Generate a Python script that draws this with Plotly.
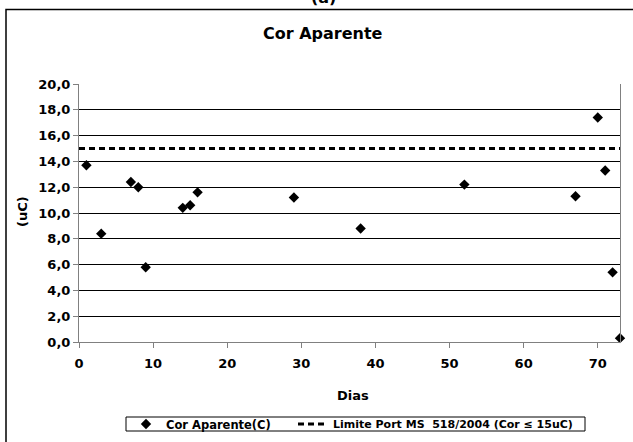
import plotly.graph_objects as go

dias = [1, 3, 7, 8, 9, 14, 15, 16, 29, 38, 52, 67, 70, 71, 72, 73]
cor = [13.7, 8.4, 12.4, 12.0, 5.8, 10.4, 10.6, 11.6, 11.2, 8.8, 12.2, 11.3, 17.4, 13.3, 5.4, 0.3]
limite_x = [0, 73]
limite_y = [15, 15]
y_ticks = [0, 2, 4, 6, 8, 10, 12, 14, 16, 18, 20]
y_tick_text = ["0,0", "2,0", "4,0", "6,0", "8,0", "10,0", "12,0", "14,0", "16,0", "18,0", "20,0"]
x_ticks = [0, 10, 20, 30, 40, 50, 60, 70]

FONT = "'DejaVu Sans', sans-serif"

fig = go.Figure()
fig.add_trace(go.Scatter(
    x=dias, y=cor, mode="markers", name="Cor Aparente(C)",
    marker=dict(symbol="diamond", size=8, color="black"),
    cliponaxis=False, legend="legend",
))
fig.add_trace(go.Scatter(
    x=limite_x, y=limite_y, mode="lines",
    name="Limite Port MS  518/2004 (Cor \u2264 15uC)",
    line=dict(color="black", width=3, dash="6px,4px"),
    legend="legend2",
))

W, H = 633, 442
L, R, T, B = 79, 13, 84, 100
pw, ph = W - L - R, H - T - B

def px(x):
    return (x - L) / pw

def py(y):
    return (H - B - y) / ph

leg_common = dict(
    orientation="h", yanchor="middle", y=py(424), xanchor="left",
    borderwidth=0, bgcolor="rgba(0,0,0,0)",
    itemwidth=30,
)

fig.update_layout(
    width=W, height=H,
    margin=dict(l=L, r=R, t=T, b=B, autoexpand=False),
    paper_bgcolor="white", plot_bgcolor="white",
    font=dict(family=FONT, size=13, color="black", weight="bold"),
    showlegend=True,
    legend=dict(x=px(126), font=dict(family=FONT, size=11.5, color="black", weight="bold"),
                **leg_common),
    legend2=dict(x=px(293), font=dict(family=FONT, size=11, color="black", weight="bold"),
                 **leg_common),
    xaxis=dict(
        range=[0, 73], tickvals=x_ticks, showgrid=False, zeroline=False,
        showline=True, linecolor="#808080", linewidth=1,
        ticks="outside", ticklen=5, tickcolor="#808080", ticklabelstandoff=4,
        tickfont=dict(family=FONT, size=13, weight="bold"),
    ),
    yaxis=dict(
        range=[0, 20], tickvals=y_ticks, ticktext=y_tick_text,
        showgrid=True, gridcolor="black", gridwidth=1, zeroline=False,
        showline=True, linecolor="#808080", linewidth=1, mirror=True,
        ticks="outside", ticklen=5, tickcolor="#808080",
        tickfont=dict(family=FONT, size=13, weight="bold"),
    ),
    shapes=[
        dict(type="rect", xref="paper", yref="paper",
             x0=px(6), x1=1.2, y0=-0.6, y1=py(9.5),
             line=dict(color="black", width=1.5), layer="below"),
        dict(type="rect", xref="paper", yref="paper",
             x0=px(126), x1=px(585), y0=py(431), y1=py(417),
             line=dict(color="black", width=1), layer="below"),
    ],
    annotations=[
        dict(text="Cor Aparente", xref="paper", yref="paper", x=px(323), y=py(33),
             showarrow=False, xanchor="center", yanchor="middle",
             font=dict(family=FONT, size=16, weight="bold")),
        dict(text="(a)", xref="paper", yref="paper", x=px(323), y=py(-3),
             showarrow=False, xanchor="center", yanchor="middle",
             font=dict(family=FONT, size=16, weight="bold")),
        dict(text="Dias", xref="paper", yref="paper", x=px(353), y=py(395),
             showarrow=False, xanchor="center", yanchor="middle",
             font=dict(family=FONT, size=13, weight="bold")),
        dict(text="(uC)", xref="paper", yref="paper", x=px(22), y=py(212),
             showarrow=False, xanchor="center", yanchor="middle", textangle=-90,
             font=dict(family=FONT, size=13, weight="bold")),
    ],
)

fig.write_html("out.html", config={"displayModeBar": False},
               post_script="document.body.style.margin='0';")
